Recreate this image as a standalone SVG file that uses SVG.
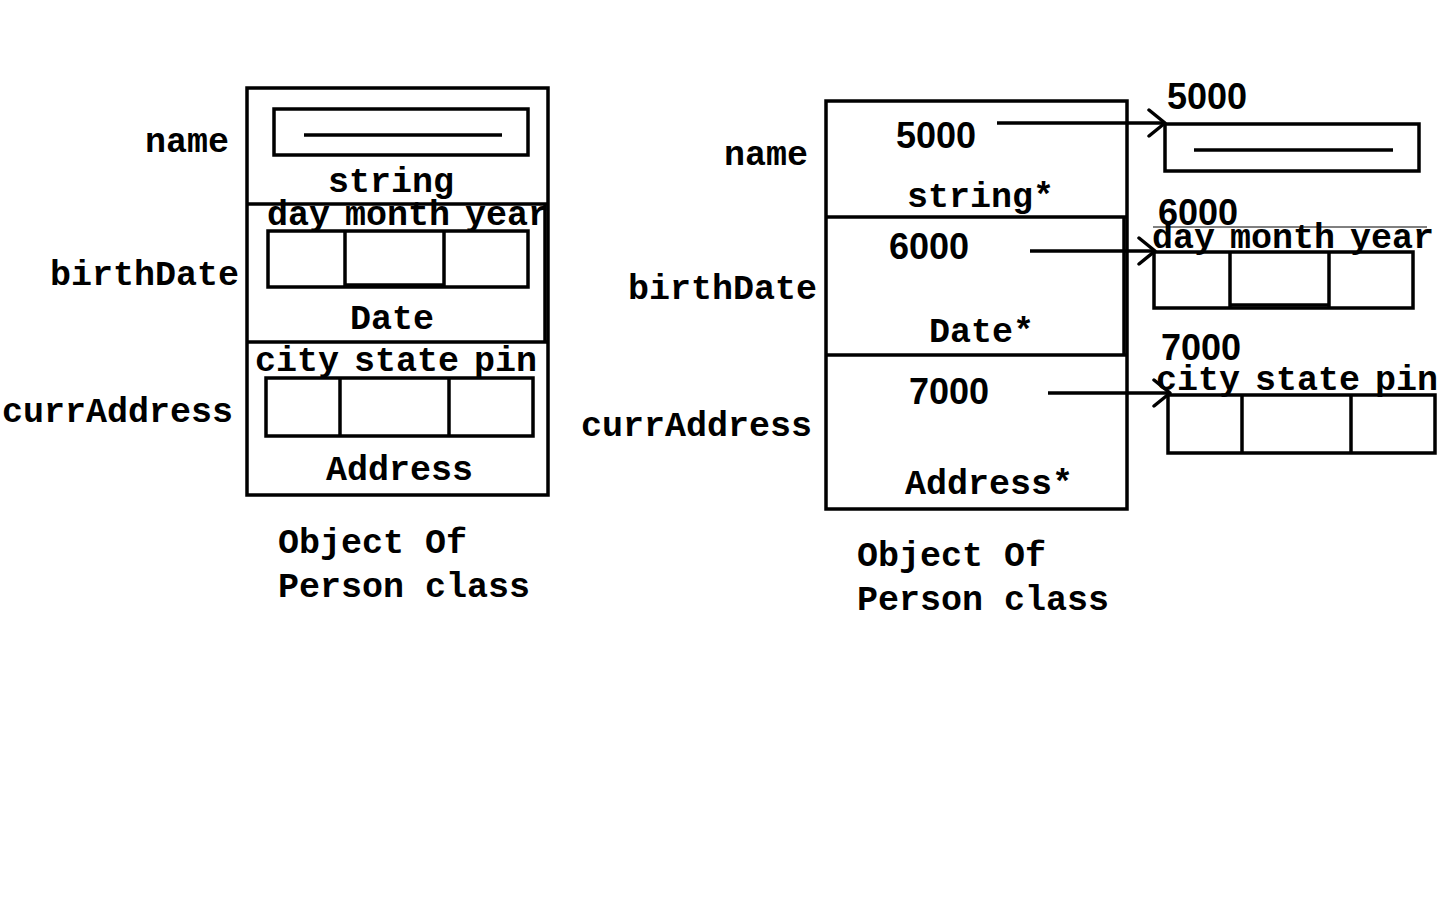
<svg xmlns="http://www.w3.org/2000/svg" width="1440" height="900" viewBox="0 0 1440 900">
<defs>
<style>
.box{fill:none;stroke:#000;stroke-width:3.5}
.ln{stroke:#000;stroke-width:3.5;fill:none}
.m{font-family:"Liberation Mono","Courier New",monospace;font-weight:bold;font-size:35px;fill:#000}
.s{font-family:"Liberation Mono","Courier New",monospace;font-weight:bold;font-size:35px;word-spacing:-6px;fill:#000}
.n{font-family:"Liberation Sans",Arial,sans-serif;font-weight:bold;font-size:36px;fill:#000}
</style>
<marker id="arr" viewBox="0 0 20 30" refX="18" refY="15" markerWidth="20" markerHeight="30" markerUnits="userSpaceOnUse" orient="auto">
<path d="M2,2 L18,15 L2,28" fill="none" stroke="#000" stroke-width="3.5" stroke-linecap="round" stroke-linejoin="round"/>
</marker>
</defs>
<rect width="1440" height="900" fill="#fff"/>

<g id="left-object">
<rect class="box" x="247" y="88" width="301" height="407"/>
<line class="ln" x1="247" y1="204" x2="548" y2="204"/>
<line class="ln" x1="247" y1="342" x2="548" y2="342"/>
<line class="ln" x1="545" y1="204" x2="545" y2="342"/>
<text class="m" x="145" y="152">name</text>
<text class="m" x="50" y="285">birthDate</text>
<text class="m" x="2" y="422">currAddress</text>
<rect class="box" x="274" y="109" width="254" height="46"/>
<line class="ln" x1="304" y1="135" x2="502" y2="135"/>
<text class="m" x="328" y="192">string</text>
<text class="s" x="267" y="225">day month year</text>
<rect class="box" x="268" y="231" width="260" height="56"/>
<line class="ln" x1="345" y1="231" x2="345" y2="287"/>
<line class="ln" x1="444" y1="231" x2="444" y2="287"/>
<line class="ln" x1="345" y1="285" x2="444" y2="285"/>
<text class="m" x="350" y="329">Date</text>
<text class="s" x="255" y="371">city state pin</text>
<rect class="box" x="266" y="378" width="267" height="58"/>
<line class="ln" x1="340" y1="378" x2="340" y2="436"/>
<line class="ln" x1="449" y1="378" x2="449" y2="436"/>
<text class="m" x="326" y="480">Address</text>
<text class="m" x="278" y="553">Object Of</text>
<text class="m" x="278" y="597">Person class</text>
</g>

<g id="right-object">
<rect class="box" x="826" y="101" width="301" height="408"/>
<line class="ln" x1="826" y1="217" x2="1127" y2="217"/>
<line class="ln" x1="826" y1="355" x2="1127" y2="355"/>
<line class="ln" x1="1124" y1="217" x2="1124" y2="355"/>
<text class="m" x="724" y="165">name</text>
<text class="m" x="628" y="299">birthDate</text>
<text class="m" x="581" y="436">currAddress</text>
<text class="n" x="896" y="148">5000</text>
<text class="m" x="907" y="207">string*</text>
<text class="n" x="889" y="259">6000</text>
<text class="m" x="929" y="342">Date*</text>
<text class="n" x="909" y="404">7000</text>
<text class="m" x="905" y="494">Address*</text>
<text class="m" x="857" y="566">Object Of</text>
<text class="m" x="857" y="610">Person class</text>
</g>

<g id="string-heap">
<text class="n" x="1167" y="109">5000</text>
<rect class="box" x="1165" y="124" width="254" height="47"/>
<line class="ln" x1="1194" y1="150" x2="1393" y2="150"/>
</g>

<g id="date-heap">
<text class="n" x="1158" y="225">6000</text>
<line x1="1153" y1="227" x2="1427" y2="227" stroke="#000" stroke-width="1"/>
<text class="s" x="1152" y="248">day month year</text>
<rect class="box" x="1154" y="252" width="259" height="56"/>
<line class="ln" x1="1230" y1="252" x2="1230" y2="308"/>
<line class="ln" x1="1329" y1="252" x2="1329" y2="308"/>
<line class="ln" x1="1230" y1="305" x2="1329" y2="305"/>
</g>

<g id="address-heap">
<text class="n" x="1161" y="360">7000</text>
<text class="s" x="1156" y="390">city state pin</text>
<rect class="box" x="1168" y="395" width="267" height="58"/>
<line class="ln" x1="1242" y1="395" x2="1242" y2="453"/>
<line class="ln" x1="1351" y1="395" x2="1351" y2="453"/>
</g>

<g id="connectors">
<line class="ln" x1="997" y1="123" x2="1165" y2="123" marker-end="url(#arr)"/>
<line class="ln" x1="1030" y1="251" x2="1155" y2="251" marker-end="url(#arr)"/>
<line class="ln" x1="1048" y1="393" x2="1170" y2="393" marker-end="url(#arr)"/>
</g>
</svg>
